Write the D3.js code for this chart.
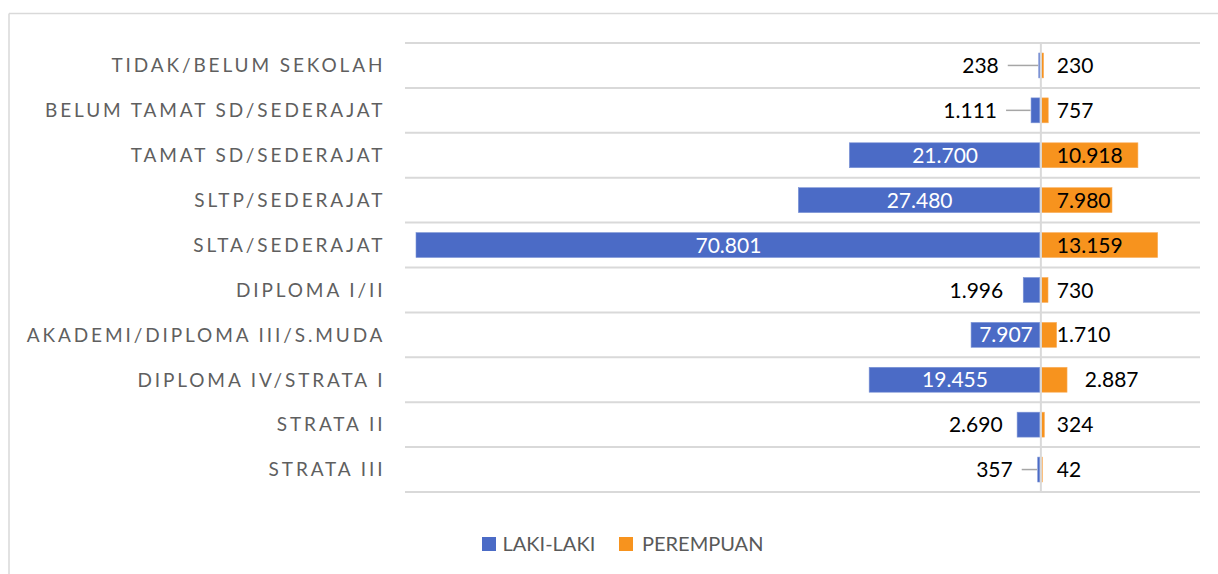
<!DOCTYPE html>
<html>
<head>
<meta charset="utf-8">
<script src="https://cdn.jsdelivr.net/npm/d3@7"></script>
<style>
  html, body { margin: 0; padding: 0; background: #fff; }
  svg { display: block; }
</style>
</head>
<body>
<svg id="chart" width="1218" height="574"></svg>
<script>
// ---- DATA ----
const categories = [
  "TIDAK/BELUM SEKOLAH",
  "BELUM TAMAT SD/SEDERAJAT",
  "TAMAT SD/SEDERAJAT",
  "SLTP/SEDERAJAT",
  "SLTA/SEDERAJAT",
  "DIPLOMA I/II",
  "AKADEMI/DIPLOMA III/S.MUDA",
  "DIPLOMA IV/STRATA I",
  "STRATA II",
  "STRATA III"
];
const lakiLaki  = [238, 1111, 21700, 27480, 70801, 1996, 7907, 19455, 2690, 357];
const perempuan = [230, 757, 10918, 7980, 13159, 730, 1710, 2887, 324, 42];
const seriesNames = ["LAKI-LAKI", "PEREMPUAN"];

// ---- LAYOUT / STYLE ----
const colors = { laki: "#4B6BC6", perempuan: "#F7931E" };
const W = 1218, H = 574;
const plot = { left: 405, right: 1200, top: 43, bottom: 492 };
const labelRight = 382.5;
const catFont = "Lato, 'Open Sans', sans-serif";
// outside-label gap (px) for small male bars; leader line if gap >= 25
const maleOutsideGap = {0: 40, 1: 34, 5: 20, 8: 14.5, 9: 25};
const maleInsideMin = 7000;
const femaleOffsetDefault = 16;
const femaleOffsetSpecial = {7: 44};

const fmt = v => d3.format(",")(v).replace(/,/g, ".");

const svg = d3.select("#chart");

// chart area border (top + left visible)
svg.append("line").attr("x1", 9).attr("x2", W).attr("y1", 13.5).attr("y2", 13.5)
  .attr("stroke", "#d9d9d9").attr("stroke-width", 1.5);
svg.append("line").attr("x1", 9).attr("x2", 9).attr("y1", 13.5).attr("y2", H)
  .attr("stroke", "#d9d9d9").attr("stroke-width", 1.5);

const x = d3.scaleLinear()
  .domain([-d3.max(lakiLaki), d3.max(perempuan)])
  .range([416, 1157]);
const x0 = x(0);

const y = d3.scaleBand()
  .domain(categories)
  .range([plot.top, plot.bottom])
  .paddingInner(0.445).paddingOuter(0.2225);

// horizontal gridlines (row boundaries)
const step = (plot.bottom - plot.top) / categories.length;
const gridYs = d3.range(categories.length + 1).map(i => plot.top + i * step);
svg.append("g").selectAll("line").data(gridYs).join("line")
  .attr("x1", plot.left).attr("x2", plot.right)
  .attr("y1", d => d).attr("y2", d => d)
  .attr("stroke", "#d9d9d9").attr("stroke-width", 2);

// bars
const g = svg.append("g");
g.selectAll("rect.laki").data(categories).join("rect")
  .attr("class", "laki")
  .attr("x", (d, i) => x(-lakiLaki[i]))
  .attr("width", (d, i) => x0 - x(-lakiLaki[i]) - 1)
  .attr("y", d => y(d)).attr("height", y.bandwidth())
  .attr("fill", colors.laki)
  .attr("stroke", "#7E95D6").attr("stroke-width", 0.6);
g.selectAll("rect.perempuan").data(categories).join("rect")
  .attr("class", "perempuan")
  .attr("x", x0 + 0.7)
  .attr("width", (d, i) => Math.max(0.8, x(perempuan[i]) - x0))
  .attr("y", d => y(d)).attr("height", y.bandwidth())
  .attr("fill", colors.perempuan)
  .attr("stroke", "#F9B060").attr("stroke-width", 0.6);

// center axis line
svg.append("line")
  .attr("x1", x0).attr("x2", x0)
  .attr("y1", plot.top).attr("y2", plot.bottom + 1)
  .attr("stroke", "#d9d9d9").attr("stroke-width", 2);

// category labels: letter spacing fitted (least squares) to two reference widths
const catG = svg.append("g");
const catSize = 19;
const catWeight = 400;
function probeW(t) {
  const p = catG.append("text").attr("font-family", catFont).attr("font-size", catSize)
    .attr("font-weight", catWeight).text(t);
  const w = p.node().getComputedTextLength();
  p.remove();
  return w;
}
const tA = categories[0], tB = categories[6];
const wA = probeW(tA), wB = probeW(tB);
const targA = 382.5 - 116, targB = 382.5 - 23.5;
const nA = tA.length - 1, nB = tB.length - 1;
const ls = (nA * (targA - wA) + nB * (targB - wB)) / (nA * nA + nB * nB);
catG.selectAll("text").data(categories).join("text")
  .attr("x", labelRight + ls)
  .attr("y", d => y(d) + y.bandwidth() / 2)
  .attr("dy", "0.36em")
  .attr("text-anchor", "end")
  .attr("font-family", catFont)
  .attr("font-size", catSize)
  .attr("font-weight", catWeight)
  .attr("letter-spacing", ls)
  .attr("fill", "#5f5f5f")
  .text(d => d);

// data labels
const lblFont = "Lato, 'Open Sans', sans-serif";
const lbl = svg.append("g").attr("font-family", lblFont).attr("font-size", 21);
categories.forEach((c, i) => {
  const cy = y(c) + y.bandwidth() / 2;
  const v = lakiLaki[i];
  const bl = x(-v);
  if (v >= maleInsideMin) {
    lbl.append("text").attr("x", (bl + x0) / 2).attr("y", cy).attr("dy", "0.36em")
      .attr("text-anchor", "middle").attr("fill", "#fff").text(fmt(v));
  } else {
    const gap = maleOutsideGap[i];
    const rx = bl - gap;
    lbl.append("text").attr("x", rx).attr("y", cy).attr("dy", "0.36em")
      .attr("text-anchor", "end").attr("fill", "#000").text(fmt(v));
    if (gap >= 25) {
      lbl.append("line").attr("x1", rx + 9).attr("x2", bl - 0.5)
        .attr("y1", cy).attr("y2", cy)
        .attr("stroke", "#a6a6a6").attr("stroke-width", 1.5);
    }
  }
  const off = femaleOffsetSpecial[i] !== undefined ? femaleOffsetSpecial[i] : femaleOffsetDefault;
  lbl.append("text").attr("x", x0 + off).attr("y", cy).attr("dy", "0.36em")
    .attr("text-anchor", "start").attr("fill", "#000").text(fmt(perempuan[i]));
});

// legend
const leg = svg.append("g").attr("font-family", lblFont).attr("font-size", 20);
const legItems = [
  { name: seriesNames[0], color: colors.laki, x: 482, tx: 502.5 },
  { name: seriesNames[1], color: colors.perempuan, x: 619, tx: 642 }
];
legItems.forEach(it => {
  leg.append("rect").attr("x", it.x).attr("y", 537).attr("width", 14).attr("height", 14)
    .attr("fill", it.color);
  leg.append("text").attr("x", it.tx).attr("y", 544).attr("dy", "0.36em")
    .attr("fill", "#595959").text(it.name);
});
</script>
</body>
</html>
